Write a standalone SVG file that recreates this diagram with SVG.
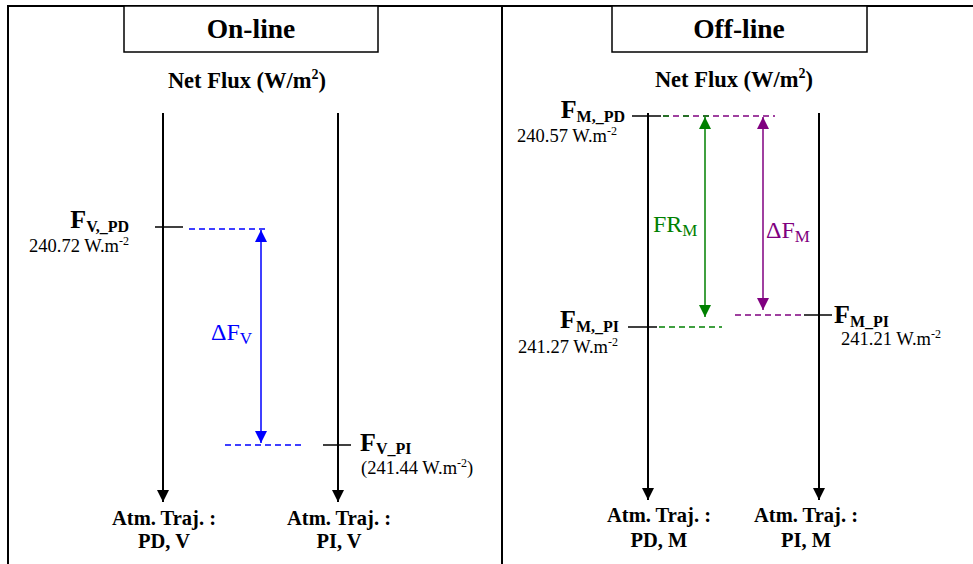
<svg xmlns="http://www.w3.org/2000/svg" width="973" height="564" viewBox="0 0 973 564">
<defs>
<style>
.frame{fill:none;stroke:#000;stroke-width:2}
.ax{stroke:#000;stroke-width:2;fill:none}
.tick{stroke:#000;stroke-width:1.5}
text{font-family:"Liberation Serif","Times New Roman",Times,serif}
.title{font-size:27.5px;font-weight:bold;text-anchor:middle}
.hdr{font-size:22.5px;font-weight:bold;text-anchor:middle}
.F{font-size:26px;font-weight:bold}
.sub{font-size:16px;font-weight:bold}
.val{font-size:18.5px}
.sup{font-size:12px}
.lab{font-size:20.5px;font-weight:bold;text-anchor:middle}
.blue{fill:#0000ff}
.green{fill:#008000}
.purple{fill:#800080}
.gl{font-size:24px}
.gs{font-size:17px}
</style>
<marker id="ak" viewBox="0 0 10 10" refX="10" refY="5" markerWidth="13" markerHeight="12" markerUnits="userSpaceOnUse" orient="auto"><path d="M0,0L10,5L0,10z" fill="#000"/></marker>
<marker id="abl" viewBox="0 0 10 10" refX="10" refY="5" markerWidth="12" markerHeight="12" markerUnits="userSpaceOnUse" orient="auto-start-reverse"><path d="M0,0L10,5L0,10z" fill="#0000ff"/></marker>
<marker id="agr" viewBox="0 0 10 10" refX="10" refY="5" markerWidth="12" markerHeight="12" markerUnits="userSpaceOnUse" orient="auto-start-reverse"><path d="M0,0L10,5L0,10z" fill="#008000"/></marker>
<marker id="apu" viewBox="0 0 10 10" refX="10" refY="5" markerWidth="12" markerHeight="12" markerUnits="userSpaceOnUse" orient="auto-start-reverse"><path d="M0,0L10,5L0,10z" fill="#800080"/></marker>
</defs>
<rect width="973" height="564" fill="#fff"/>
<g id="frame">
<path class="frame" d="M8,564V6H973M502,6V564"/>
</g>
<g id="title-online"><rect x="124" y="6" width="254" height="46" fill="#fff" stroke="#000" stroke-width="1.5"/><text class="title" x="251" y="38">On-line</text></g>
<g id="title-offline"><rect x="612" y="6" width="255" height="46" fill="#fff" stroke="#000" stroke-width="1.5"/><text class="title" x="739" y="38">Off-line</text></g>
<g id="hdr-on"><text class="hdr" x="247" y="88">Net Flux (W/m<tspan font-size="14" dy="-9">2</tspan><tspan dy="9">)</tspan></text></g>
<g id="hdr-off"><text class="hdr" x="734" y="87">Net Flux (W/m<tspan font-size="14" dy="-9">2</tspan><tspan dy="9">)</tspan></text></g>
<g id="connectors">
<line class="ax" x1="163" y1="113" x2="163" y2="502" marker-end="url(#ak)"/>
<line class="ax" x1="338" y1="113" x2="338" y2="502" marker-end="url(#ak)"/>
<line class="ax" x1="648" y1="113" x2="648" y2="500" marker-end="url(#ak)"/>
<line class="ax" x1="819" y1="113" x2="819" y2="500" marker-end="url(#ak)"/>
<line class="tick" x1="155" y1="227" x2="183" y2="227"/>
<line class="tick" x1="323" y1="445" x2="351" y2="445"/>
<line x1="189" y1="229" x2="268" y2="229" stroke="#0000ff" stroke-width="1.3" stroke-dasharray="6,4"/>
<line x1="225" y1="445" x2="303" y2="445" stroke="#0000ff" stroke-width="1.3" stroke-dasharray="6,4"/>
<line x1="261" y1="230" x2="261" y2="443" stroke="#0000ff" stroke-width="1.5" marker-start="url(#abl)" marker-end="url(#abl)"/>
<line class="tick" x1="632" y1="116" x2="661" y2="116"/>
<line class="tick" x1="628" y1="327" x2="657" y2="327"/>
<line class="tick" x1="804" y1="315" x2="832" y2="315"/>
<line x1="663" y1="116" x2="775" y2="116" stroke="#800080" stroke-width="1.3" stroke-dasharray="6,4"/>
<line x1="663" y1="116" x2="722" y2="116" stroke="#008000" stroke-width="1.3" stroke-dasharray="6,14"/>
<line x1="659" y1="327" x2="722" y2="327" stroke="#008000" stroke-width="1.3" stroke-dasharray="6,4"/>
<line x1="735" y1="315" x2="803" y2="315" stroke="#800080" stroke-width="1.3" stroke-dasharray="6,4"/>
<line x1="705" y1="117" x2="705" y2="317" stroke="#008000" stroke-width="1.5" marker-start="url(#agr)" marker-end="url(#agr)"/>
<line x1="763" y1="117" x2="763" y2="310" stroke="#800080" stroke-width="1.5" marker-start="url(#apu)" marker-end="url(#apu)"/>
</g>
<g id="FVPD"><text class="F" x="129" y="228" text-anchor="end">F<tspan class="sub" dy="4">V,_PD</tspan></text><text class="val" x="29" y="252">240.72 W.m<tspan class="sup" dy="-7">-2</tspan></text></g>
<g id="FVPI"><text class="F" x="360" y="451">F<tspan class="sub" dy="3">V_PI</tspan></text><text class="val" x="361" y="474">(241.44 W.m<tspan class="sup" dy="-7">-2</tspan><tspan dy="7">)</tspan></text></g>
<g id="dFV"><text class="blue gl" x="211" y="340">ΔF<tspan class="gs" dy="4">V</tspan></text></g>
<g id="FMPD"><text class="F" x="625" y="118" text-anchor="end">F<tspan class="sub" dy="4">M,_PD</tspan></text><text class="val" x="517" y="142">240.57 W.m<tspan class="sup" dy="-7">-2</tspan></text></g>
<g id="FMPI1"><text class="F" x="619" y="328" text-anchor="end">F<tspan class="sub" dy="4">M,_PI</tspan></text><text class="val" x="518" y="353">241.27 W.m<tspan class="sup" dy="-7">-2</tspan></text></g>
<g id="FMPI2"><text class="F" x="834" y="323">F<tspan class="sub" dy="4">M_PI</tspan></text><text class="val" x="841" y="345">241.21 W.m<tspan class="sup" dy="-7">-2</tspan></text></g>
<g id="FRM"><text class="green gl" x="653" y="232">FR<tspan class="gs" dy="4">M</tspan></text></g>
<g id="dFM"><text class="purple gl" x="766" y="238">ΔF<tspan class="gs" dy="4">M</tspan></text></g>
<g id="traj1"><text class="lab" x="164" y="525">Atm. Traj. :</text><text class="lab" x="164" y="548">PD, V</text></g>
<g id="traj2"><text class="lab" x="339" y="525">Atm. Traj. :</text><text class="lab" x="339" y="548">PI, V</text></g>
<g id="traj3"><text class="lab" x="659" y="522">Atm. Traj. :</text><text class="lab" x="659" y="547">PD, M</text></g>
<g id="traj4"><text class="lab" x="806" y="522">Atm. Traj. :</text><text class="lab" x="806" y="547">PI, M</text></g>
</svg>
